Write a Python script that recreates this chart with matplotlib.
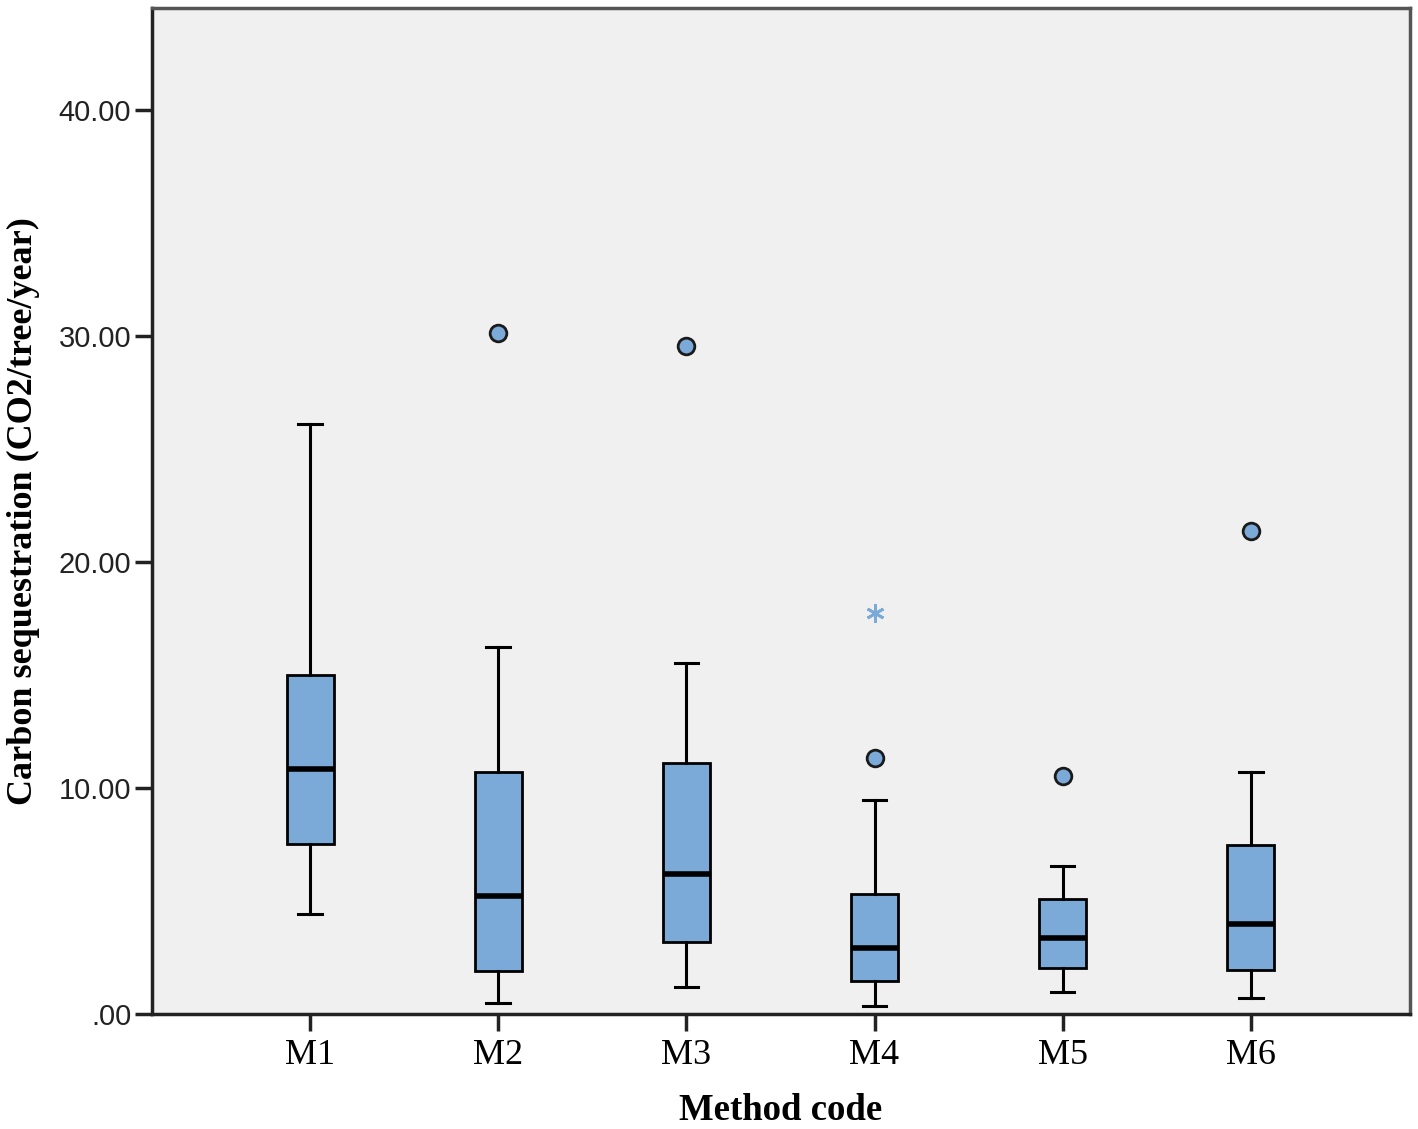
import matplotlib
matplotlib.use("Agg")
import matplotlib.pyplot as plt

categories = ["M1", "M2", "M3", "M4", "M5", "M6"]
whisker_low = [4.42, 0.49, 1.19, 0.35, 0.97, 0.71]
q1 = [7.52, 1.90, 3.19, 1.46, 2.04, 1.95]
median = [10.84, 5.22, 6.19, 2.92, 3.36, 3.98]
q3 = [15.00, 10.71, 11.10, 5.31, 5.09, 7.48]
whisker_high = [26.10, 16.24, 15.53, 9.47, 6.55, 10.71]
outliers = [[], [30.13], [29.56], [11.33], [10.53], [21.37]]
extremes = [[], [], [], [17.74], [], []]
yticks = [0, 10, 20, 30, 40]
ytick_labels = [".00", "10.00", "20.00", "30.00", "40.00"]

box_color = "#7BAAD8"

fig = plt.figure(figsize=(14.18, 11.29), dpi=100)
ax = fig.add_axes([0.1072, 0.1018, 0.8872, 0.8911])
ax.set_facecolor("#F0F0F0")

stats = []
for i, c in enumerate(categories):
    stats.append(dict(label=c, whislo=whisker_low[i], q1=q1[i], med=median[i],
                      q3=q3[i], whishi=whisker_high[i], fliers=outliers[i]))
positions = list(range(1, len(categories) + 1))
ax.bxp(stats, positions=positions, widths=0.25, patch_artist=True,
       showfliers=True,
       boxprops=dict(facecolor=box_color, edgecolor="black", linewidth=2),
       medianprops=dict(color="black", linewidth=4),
       whiskerprops=dict(color="black", linewidth=2.2),
       capprops=dict(color="black", linewidth=2.2),
       capwidths=0.125,
       flierprops=dict(marker="o", markerfacecolor=box_color,
                       markeredgecolor="#1a1a1a", markersize=12,
                       markeredgewidth=2))
for i, ex in enumerate(extremes):
    if ex:
        ax.plot([positions[i]] * len(ex), ex, linestyle="none", marker=(6, 2, 0),
                markersize=13, markeredgecolor=box_color, markeredgewidth=2)

ax.set_xlim(0.16, 6.846)
ax.set_ylim(0, 44.5)
ax.set_yticks(yticks)
ax.set_yticklabels(ytick_labels, family="Liberation Sans",
                   fontsize=21, color="#222222")
ax.set_xticks(positions)
ax.set_xticklabels(categories, family="Liberation Serif", fontsize=26)
ax.tick_params(axis="both", length=12, width=2.5, color="#222222")
ax.tick_params(axis="x", pad=6)
ax.tick_params(axis="y", pad=3)

for s in ["left", "bottom"]:
    ax.spines[s].set_linewidth(2.5)
    ax.spines[s].set_color("#222222")
for s in ["top", "right"]:
    ax.spines[s].set_linewidth(2.5)
    ax.spines[s].set_color("#555555")

ax.set_xlabel("Method code", family="Liberation Serif", fontsize=26.5,
              fontweight="bold")
ax.xaxis.set_label_coords(0.5, -0.078)
ax.set_ylabel("Carbon sequestration (CO2/tree/year)", family="Liberation Serif",
              fontsize=26, fontweight="bold")
ax.yaxis.set_label_coords(-0.089, 0.5)

fig.savefig("out.png", dpi=100, facecolor="white")
